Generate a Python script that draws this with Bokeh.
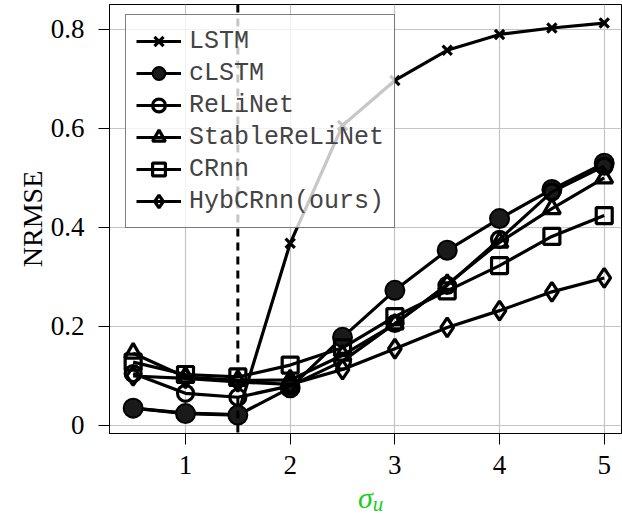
from bokeh.plotting import figure
from bokeh.models import FixedTicker, Span, Legend, LegendItem, Div
from bokeh.layouts import column
from bokeh.embed import file_html
from bokeh.resources import INLINE

# ---- data ----
sigma_u = [0.5, 1.0, 1.5, 2.0, 2.5, 3.0, 3.5, 4.0, 4.5, 5.0]
lstm = [0.035, 0.025, 0.022, 0.368, 0.606, 0.697, 0.758, 0.790, 0.803, 0.813]
clstm = [0.035, 0.024, 0.021, 0.076, 0.178, 0.273, 0.354, 0.418, 0.477, 0.530]
relinet = [0.105, 0.065, 0.057, 0.080, 0.130, 0.206, 0.283, 0.376, 0.472, 0.524]
stable_relinet = [0.146, 0.098, 0.091, 0.092, 0.142, 0.205, 0.285, 0.370, 0.438, 0.500]
crnn = [0.128, 0.103, 0.098, 0.122, 0.157, 0.220, 0.272, 0.323, 0.382, 0.424]
hybcrnn = [0.100, 0.095, 0.088, 0.083, 0.113, 0.155, 0.198, 0.232, 0.270, 0.298]
names = ["LSTM", "cLSTM", "ReLiNet", "StableReLiNet", "CRnn", "HybCRnn(ours)"]
x_ticks = [1, 2, 3, 4, 5]
y_ticks = [0, 0.2, 0.4, 0.6, 0.8]
y_tick_labels = ["0", "0.2", "0.4", "0.6", "0.8"]
threshold = 1.5

SERIF = "Liberation Serif"
MONO = "Liberation Mono"

p = figure(width=622, height=480, output_backend="svg", toolbar_location=None,
           x_range=(0.274, 5.165), y_range=(-0.0162, 0.8505),
           min_border_left=109, min_border_right=1, min_border_top=4,
           min_border_bottom=47)
p.outline_line_color = "black"
p.outline_line_width = 1
p.background_fill_color = "white"

# grid
for g in (p.xgrid, p.ygrid):
    g.grid_line_color = "#c4c4c4"
    g.grid_line_width = 1.2

# axes
p.xaxis.ticker = FixedTicker(ticks=x_ticks)
p.yaxis.ticker = FixedTicker(ticks=y_ticks)
p.yaxis.major_label_overrides = {t: s for t, s in zip(y_ticks, y_tick_labels)}
for ax in (p.xaxis, p.yaxis):
    ax.axis_line_color = "black"
    ax.axis_line_width = 1
    ax.major_tick_line_color = "black"
    ax.major_tick_out = 11
    ax.major_tick_in = 0
    ax.minor_tick_line_color = None
    ax.major_label_text_font = SERIF
    ax.major_label_text_font_size = "27px"
    ax.major_label_text_color = "black"
p.xaxis.major_label_standoff = 11
p.yaxis.major_label_standoff = 14
p.yaxis.axis_label = "NRMSE"
p.yaxis.axis_label_text_font = SERIF
p.yaxis.axis_label_text_font_size = "28px"
p.yaxis.axis_label_text_font_style = "normal"
p.yaxis.axis_label_text_color = "black"
p.yaxis.axis_label_standoff = 0

# dashed threshold
p.add_layout(Span(location=threshold, dimension="height", line_color="black",
                  line_width=3, line_dash="8 6"))

LW = 3.2
items = []
# LSTM
r = p.line(sigma_u, lstm, line_color="black", line_width=LW)
m = p.scatter(sigma_u, lstm, marker="x", size=13, line_color="black", line_width=LW)
items.append(LegendItem(label=names[0], renderers=[r, m]))
# cLSTM
r = p.line(sigma_u, clstm, line_color="black", line_width=LW)
m = p.scatter(sigma_u, clstm, marker="circle", size=19, line_color="black",
              fill_color="#1a1a1a", line_width=2)
items.append(LegendItem(label=names[1], renderers=[r, m]))
# ReLiNet
r = p.line(sigma_u, relinet, line_color="black", line_width=LW)
m = p.scatter(sigma_u, relinet, marker="circle", size=16, line_color="black",
              fill_alpha=0, line_width=LW)
items.append(LegendItem(label=names[2], renderers=[r, m]))
# StableReLiNet
r = p.line(sigma_u, stable_relinet, line_color="black", line_width=LW)
m = p.scatter(sigma_u, stable_relinet, marker="triangle", size=17, line_color="black",
              fill_alpha=0, line_width=LW)
items.append(LegendItem(label=names[3], renderers=[r, m]))
# CRnn
r = p.line(sigma_u, crnn, line_color="black", line_width=LW)
m = p.scatter(sigma_u, crnn, marker="square", size=16, line_color="black",
              fill_alpha=0, line_width=LW)
items.append(LegendItem(label=names[4], renderers=[r, m]))
# HybCRnn
r = p.line(sigma_u, hybcrnn, line_color="black", line_width=LW)
m = p.scatter(sigma_u, hybcrnn, marker="diamond", size=19, line_color="black",
              fill_alpha=0, line_width=LW)
items.append(LegendItem(label=names[5], renderers=[r, m]))

legend = Legend(items=items, location=(16, 205))
legend.label_text_font = MONO
legend.label_text_font_size = "25px"
legend.glyph_width = 45
legend.glyph_height = 32
legend.label_height = 32
legend.label_standoff = 8
legend.spacing = 0
legend.padding = 10
legend.margin = 0
legend.border_line_color = "black"
legend.border_line_width = 1
legend.background_fill_color = "white"
legend.background_fill_alpha = 0.78
p.add_layout(legend, "center")

# x-axis label sigma_u (green, italic, subscript) as real HTML text
xlabel = Div(
    text=('<div style="position:absolute; left:353px; top:-1px; margin:0; padding:0; '
          'color:#1ccc1c; font-family:\'Liberation Serif\', serif; font-style:italic; '
          'font-size:30px; line-height:28px; white-space:nowrap;">σ'
          '<span style="font-size:21px; line-height:20px; position:relative; top:3px;">u</span></div>'),
    width=622, height=37, styles={"position": "relative", "overflow": "visible"})

layout = column(p, xlabel, spacing=0)
open("out.html", "w").write(file_html(layout, INLINE))
